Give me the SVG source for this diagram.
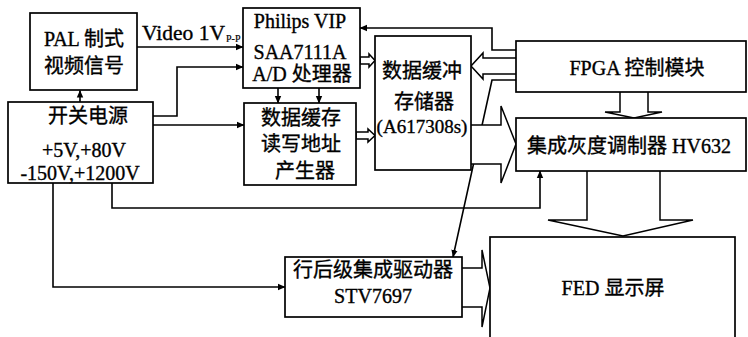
<svg xmlns="http://www.w3.org/2000/svg" width="748" height="337" viewBox="0 0 748 337">
<style>
.box{fill:#fff;stroke:#000;stroke-width:1.7}
.ln{fill:none;stroke:#000;stroke-width:1.6}
.ha{fill:#fff;stroke:#000;stroke-width:1.5;stroke-linejoin:miter}
text{font-family:"Liberation Serif","Noto Sans CJK SC",serif;font-size:20px;fill:#000;stroke:#000;stroke-width:0.35;text-anchor:middle}
.sub{font-size:10px;text-anchor:start;stroke-width:0.2}
</style>
<defs>
<marker id="ar" markerUnits="userSpaceOnUse" markerWidth="8" markerHeight="8" viewBox="0 0 8 8" refX="7" refY="4" orient="auto">
<path d="M0,0.8 L7.5,4 L0,7.2 z" fill="#000"/>
</marker>
</defs>
<rect width="748" height="337" fill="#fff"/>
<g id="connectors">
<line class="ln" x1="80" y1="102" x2="80" y2="90.5" marker-end="url(#ar)"/>
<line class="ln" x1="137" y1="47" x2="243" y2="47" marker-end="url(#ar)"/>
<polyline class="ln" points="153,116 177,116 177,67 243,67" marker-end="url(#ar)"/>
<line class="ln" x1="153" y1="125" x2="244" y2="125" marker-end="url(#ar)"/>
<line class="ln" x1="278" y1="88" x2="278" y2="103" marker-end="url(#ar)"/>
<line class="ln" x1="319" y1="88" x2="319" y2="103" marker-end="url(#ar)"/>
<polyline class="ln" points="516,50 492,50 492,28 360,28" marker-end="url(#ar)"/>
<polyline class="ln" points="516,80 492,80 453,257" marker-end="url(#ar)"/>
<polyline class="ln" points="112,183 112,208 540,208 540,171" marker-end="url(#ar)"/>
<polyline class="ln" points="53,183 53,287 285,287" marker-end="url(#ar)"/>
<polygon class="ha" points="360,57 369,57 369,54 375,60.5 369,67 369,64 360,64"/>
<polygon class="ha" points="356,132 368,132 368,129 375,135.5 368,142 368,139 356,139"/>
<polyline class="ha" points="516,58 483,58 483,53 471,66 483,79 483,74 516,74"/>
<polyline class="ha" points="471,125 501,125 501,106 516,144 501,183 501,164 471,164"/>
<polyline class="ha" points="620,92 620,112 605,112 634,118 662,112 648,112 648,92"/>
<polyline class="ha" points="587,171 587,220 548,220 623,236 693,220 660,220 660,171"/>
<polyline class="ha" points="462,268 482,268 482,250 490,288 482,327 482,307 462,307"/>
<text x="142" y="40" style="text-anchor:start;font-size:21.5px">Video 1V</text>
<text class="sub" x="226" y="42">P-P</text>
</g>
<g id="pal">
<rect class="box" x="30" y="13" width="107" height="77"/>
<text x="84" y="46">PAL 制式</text>
<text x="84" y="73">视频信号</text>
</g>
<g id="power">
<rect class="box" x="8" y="102" width="145" height="81"/>
<text x="88" y="123">开关电源</text>
<text x="84" y="157">+5V,+80V</text>
<text x="80" y="180">-150V,+1200V</text>
</g>
<g id="philips">
<rect class="box" x="243" y="8" width="117" height="80"/>
<text x="300" y="28">Philips VIP</text>
<text x="300" y="59">SAA7111A</text>
<text x="302" y="81">A/D 处理器</text>
</g>
<g id="addrgen">
<rect class="box" x="244" y="103" width="112" height="82"/>
<text x="301" y="125">数据缓存</text>
<text x="301" y="151">读写地址</text>
<text x="305" y="178">产生器</text>
</g>
<g id="buffer">
<rect class="box" x="375" y="36" width="96" height="134"/>
<text x="422" y="78">数据缓冲</text>
<text x="424" y="109">存储器</text>
<text x="422" y="133" style="font-size:19px">(A617308s)</text>
</g>
<g id="fpga">
<rect class="box" x="516" y="41" width="230" height="51"/>
<text x="637" y="75">FPGA 控制模块</text>
</g>
<g id="hv632">
<rect class="box" x="516" y="118" width="230" height="53"/>
<text x="629" y="153">集成灰度调制器 HV632</text>
</g>
<g id="fed">
<rect class="box" x="490" y="237" width="245" height="110"/>
<text x="613" y="295">FED 显示屏</text>
</g>
<g id="stv">
<rect class="box" x="285" y="257" width="177" height="60"/>
<text x="373" y="277">行后级集成驱动器</text>
<text x="373" y="303">STV7697</text>
</g>
</svg>
